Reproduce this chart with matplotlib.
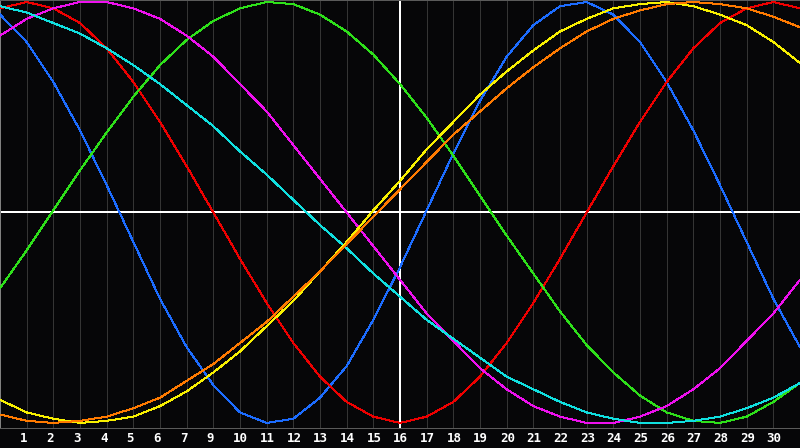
"""
plot.py — biorhythm style chart, 7 cycles over one month.
"""

import numpy as np
import matplotlib
matplotlib.use("Agg")
import matplotlib.pyplot as plt

# day index along the x axis (0 .. 30)
days = np.arange(31)

# labels under the chart (the "8" is missing in the original)
day_labels = ["1", "2", "3", "4", "5", "6", "7", "9", "10", "11", "12", "13", "14", "15",
              "16", "17", "18", "19", "20", "21", "22", "23", "24", "25", "26", "27", "28",
              "29", "30"]

# values, -1 .. 1
physical = [0.94, 0.81, 0.62, 0.39, 0.13, -0.14, -0.41, -0.64, -0.82, -0.95, -1.00,
            -0.98, -0.88, -0.73, -0.51, -0.26, 0.01, 0.28, 0.53, 0.74, 0.89, 0.98,
            1.00, 0.94, 0.81, 0.62, 0.39, 0.13, -0.14, -0.41, -0.64]
emotional = [0.97, 1.00, 0.97, 0.90, 0.78, 0.62, 0.43, 0.22, 0.00, -0.22, -0.43,
             -0.62, -0.78, -0.90, -0.97, -1.00, -0.97, -0.90, -0.78, -0.62, -0.43, -0.22,
             0.00, 0.22, 0.43, 0.62, 0.78, 0.90, 0.97, 1.00, 0.97]
intellectual = [-0.36, -0.18, 0.01, 0.20, 0.38, 0.55, 0.70, 0.82, 0.91, 0.97, 1.00,
                0.99, 0.94, 0.86, 0.75, 0.61, 0.45, 0.27, 0.08, -0.11, -0.29, -0.47,
                -0.63, -0.76, -0.87, -0.95, -0.99, -1.00, -0.97, -0.90, -0.81]
intuitive = [0.84, 0.92, 0.97, 1.00, 1.00, 0.97, 0.92, 0.84, 0.74, 0.61, 0.48,
             0.32, 0.16, 0.00, -0.16, -0.32, -0.48, -0.61, -0.74, -0.84, -0.92, -0.97,
             -1.00, -1.00, -0.97, -0.92, -0.84, -0.74, -0.61, -0.48, -0.32]
spiritual = [0.98, 0.95, 0.90, 0.85, 0.78, 0.70, 0.61, 0.51, 0.41, 0.29, 0.18,
             0.06, -0.06, -0.17, -0.29, -0.40, -0.51, -0.60, -0.69, -0.78, -0.84, -0.90,
             -0.95, -0.98, -1.00, -1.00, -0.99, -0.97, -0.93, -0.88, -0.81]
aesthetic = [-0.89, -0.95, -0.98, -1.00, -0.99, -0.97, -0.92, -0.85, -0.76, -0.66, -0.54,
             -0.42, -0.28, -0.14, 0.01, 0.15, 0.30, 0.43, 0.56, 0.67, 0.77, 0.86,
             0.92, 0.97, 0.99, 1.00, 0.98, 0.94, 0.89, 0.81, 0.71]
awareness = [-0.96, -0.99, -1.00, -0.99, -0.97, -0.93, -0.88, -0.80, -0.72, -0.62, -0.52,
             -0.40, -0.28, -0.15, -0.02, 0.11, 0.24, 0.37, 0.48, 0.59, 0.69, 0.78,
             0.86, 0.92, 0.96, 0.99, 1.00, 0.99, 0.97, 0.93, 0.88]

series = [
    (physical, "#1c6cff"),
    (emotional, "#ee0000"),
    (intellectual, "#2ee01a"),
    (intuitive, "#ee10ee"),
    (spiritual, "#10e0e0"),
    (aesthetic, "#f8f000"),
    (awareness, "#ff7a00"),
]

BG = "#060608"
PX = 0.72   # one pixel, in points, at 100 dpi

fig = plt.figure(figsize=(8, 4.48), dpi=100, facecolor=BG)
ax = fig.add_axes([0, 1 - 428 / 448, 1, 428 / 448])
ax.set_facecolor(BG)

# dark day grid
for d in range(1, 30):
    ax.axvline(d, color="#343434", lw=PX, antialiased=False, zorder=1)

# white cross in the middle
ax.axvline(15, color="white", lw=2 * PX, antialiased=False, zorder=2)
ax.axhline(0, color="white", lw=2 * PX, antialiased=False, zorder=2)

for values, color in series:
    ax.plot(days, values, color=color, lw=PX, antialiased=False, zorder=3)

ax.set_xlim(0, 30)
ax.set_ylim(-1.024, 1.0095)
ax.set_xticks([])
ax.set_yticks([])

for name, sp in ax.spines.items():
    sp.set_color("#5a5a5a")
    sp.set_linewidth(PX)
ax.spines["right"].set_visible(False)
ax.spines["left"].set_color("#808080")

# day labels, left aligned a little before each grid line
slots = np.arange(1, len(day_labels) + 1) - 0.25
for x, lab in zip(slots, day_labels):
    ax.text(x, -10 / 428, lab, transform=ax.get_xaxis_transform(),
            ha="left", va="center", color="white", fontsize=9,
            family="DejaVu Sans Mono", fontweight="bold", clip_on=False)

plt.savefig("out.png", dpi=100, facecolor=BG)
plt.close()
